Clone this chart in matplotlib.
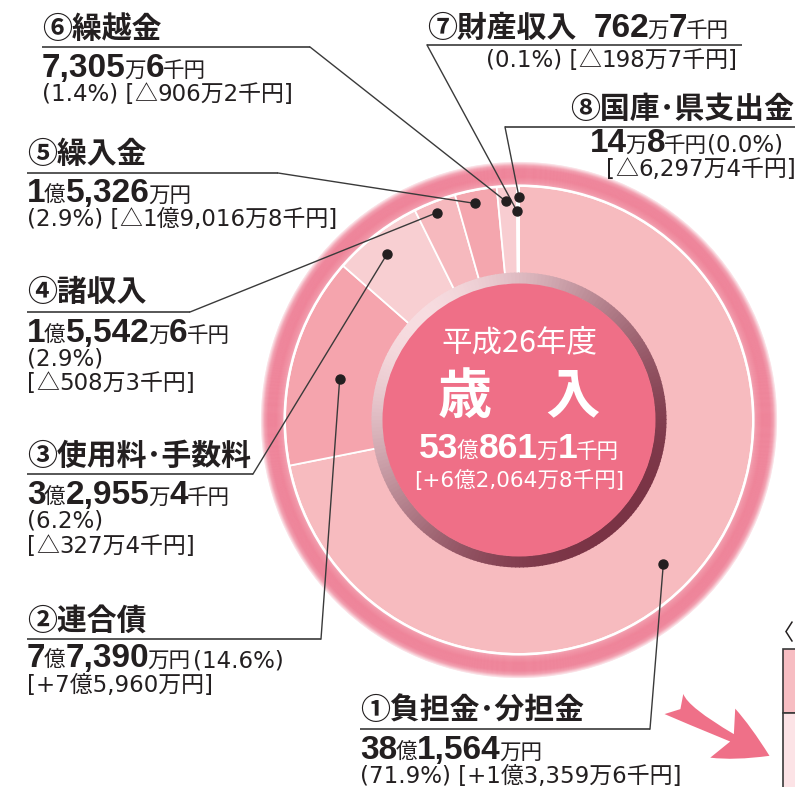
import matplotlib
matplotlib.use('Agg')
import matplotlib.pyplot as plt
import numpy as np
from matplotlib.patches import Wedge, Circle, Rectangle, FancyArrowPatch
from matplotlib.colors import to_rgb

W, H = 795, 787

# ---------------- data ----------------
markers = ['①', '②', '③', '④', '⑤', '⑥', '⑦', '⑧']
categories = ['負担金･分担金', '連合債', '使用料･手数料', '諸収入',
              '繰入金', '繰越金', '財産収入', '国庫･県支出金']
values_k = [3815640, 773900, 329554, 155426, 153260, 73056, 7627, 148]  # 千円
amount_labels = ['38億1,564万円', '7億7,390万円', '3億2,955万4千円', '1億5,542万6千円',
                 '1億5,326万円', '7,305万6千円', '762万7千円', '14万8千円']
share_labels = ['71.9%', '14.6%', '6.2%', '2.9%', '2.9%', '1.4%', '0.1%', '0.0%']
change_labels = ['+1億3,359万6千円', '+7億5,960万円', '△327万4千円', '△508万3千円',
                 '△1億9,016万8千円', '△906万2千円', '△198万7千円', '△6,297万4千円']
fiscal_year = '平成26年度'
chart_title = '歳　入'
total_label = '53億861万1千円'
total_change = '+6億2,064万8千円'

slice_colors = ['#F7BBBF', '#F5A4AD', '#F8CFD2', '#F6B9BE',
                '#F4A6AE', '#F8CDD1', '#FBE4E6', '#FFFFFF']

# ---------------- figure ----------------
fig = plt.figure(figsize=(W / 100, H / 100), dpi=100)
ax = fig.add_axes([0, 0, 1, 1])


def Y(y):
    return H - y


CX, CY = 519, 420
R_PIE = 234
center = (CX, Y(CY))

wedges, _ = ax.pie(values_k, colors=slice_colors, startangle=90, counterclock=False,
                   radius=R_PIE, center=center,
                   wedgeprops=dict(edgecolor='white', linewidth=1.3))
ax.set_xlim(0, W)
ax.set_ylim(0, H)
ax.axis('off')

# outer gradient ring
profile = [(234.5, '#F29AAA'), (238, '#EF7D93'), (243, '#EC6A84'), (251, '#EC6C86'),
           (254.5, '#F08CA0'), (258, '#FBE2E7')]
pr = np.array([p[0] for p in profile])
pc = np.array([to_rgb(p[1]) for p in profile])
r = 234.5
while r < 258:
    col = [np.interp(r + 0.25, pr, pc[:, k]) for k in range(3)]
    ax.add_patch(Wedge(center, r + 0.55, 0, 360, width=0.6, color=col, lw=0, zorder=0.5))
    r += 0.5
ax.add_patch(Circle(center, R_PIE + 0.3, fill=False, ec='white', lw=1.8, zorder=3))

# center disk with shaded rim
dark = np.array(to_rgb('#7A3345'))
light = np.array(to_rgb('#F7DCE0'))
N = 240
for k in range(N):
    a0 = 360 * k / N
    am = np.deg2rad(a0 + 180 / N)
    t = (1 + np.cos(am - np.deg2rad(135))) / 2
    col = dark + (light - dark) * t ** 1.4
    ax.add_patch(Wedge(center, 147.5, a0, a0 + 360 / N + 0.4, width=11.5, color=col,
                       lw=0, zorder=4))
ax.add_patch(Circle(center, 136.5, color='#EF6F87', lw=0, zorder=5))

# ---------------- text helpers ----------------
renderer = fig.canvas.get_renderer()
INK = '#231F20'
CJK = ['Noto Sans CJK JP']
F_TITLE = (CJK, 'bold', 21.5)
F_BIG = (['Liberation Sans', 'Noto Sans CJK JP'], 'bold', 24)
F_UNIT = (CJK, 'normal', 15.5)
F_SMALL = (['DejaVu Sans', 'Noto Sans CJK JP'], 'normal', 16.5)


def runs_text(x, yb, runs, color=INK, ha='left'):
    arts = []
    cx = x
    for s, f in runs:
        if s is None:
            cx += f
            continue
        t = ax.text(cx, Y(yb), s, color=color, ha='left', va='baseline',
                    fontfamily=f[0], fontweight=f[1], fontsize=f[2], zorder=10)
        cx += t.get_window_extent(renderer).width
        arts.append(t)
    total = cx - x
    shift = {'left': 0, 'center': -total / 2, 'right': -total}[ha]
    if shift:
        for t in arts:
            px, py = t.get_position()
            t.set_x(px + shift)
    return cx + shift


def amount_runs(s, big=F_BIG, unit=F_UNIT):
    runs = []
    cur = ''
    curbig = None
    for ch in s:
        b = ch in '0123456789,'
        if curbig is None or b == curbig:
            cur += ch
        else:
            runs.append((cur, big if curbig else unit))
            if curbig:
                runs.append((None, -1.5))
            cur = ch
        curbig = b
    runs.append((cur, big if curbig else unit))
    return runs


def small_runs(s, f=F_SMALL):
    tri = (CJK, 'normal', f[2])
    runs = []
    parts = s.split('△')
    for k, p in enumerate(parts):
        if k > 0:
            runs.append(('△', tri))
        if p:
            runs.append((p, f))
    return runs


def title(i):
    return markers[i] + categories[i]


# ---------------- labels & leaders ----------------
# (underline x0, x1, y), leader start, dot (angle offset from wedge middle, radius)
leaders = [
    ((360, 650, 729), (650, 729), (-5.6, 204)),
    ((27, 321, 639), (321, 639), (2.0, 184)),
    ((27, 253, 474), (253, 474), (0.9, 212)),
    ((27, 190, 312), (190, 312), (0.5, 223)),
    ((27, 278, 173), (278, 173), (0.8, 221)),
    ((42, 310, 47), (310, 47), (0.4, 219)),
    ((427, 742, 45), (427, 45), (0.3, 209)),
    ((505, 800, 127), (505, 127), (0.0, 223)),
]
LINE = '#3A3A3A'
for i, (ul, start, (doff, dr)) in enumerate(leaders):
    w = wedges[i]
    ang = np.deg2rad((w.theta1 + w.theta2) / 2 + doff)
    dx, dy = CX + dr * np.cos(ang), Y(CY) + dr * np.sin(ang)
    ax.plot([ul[0], ul[1]], [Y(ul[2]), Y(ul[2])], color=LINE, lw=1.2, zorder=8,
            solid_capstyle='butt')
    ax.plot([start[0], dx], [Y(start[1]), dy], color=LINE, lw=1.0, zorder=8)
    ax.plot([dx], [dy], 'o', ms=6.5, color=INK, zorder=9)

# ① 負担金・分担金
runs_text(360, 719, [(title(0), F_TITLE)])
runs_text(360, 759, amount_runs(amount_labels[0]))
runs_text(360, 783, small_runs(f'({share_labels[0]}) [{change_labels[0]}]'))
# ② 連合債
runs_text(27, 630, [(title(1), F_TITLE)])
runs_text(27, 667, amount_runs(amount_labels[1]) + [(None, 2)] + small_runs(f'({share_labels[1]})'))
runs_text(27, 692, small_runs(f'[{change_labels[1]}]'))
# ③ 使用料・手数料
runs_text(27, 465, [(title(2), F_TITLE)])
runs_text(27, 504, amount_runs(amount_labels[2]))
runs_text(27, 527, small_runs(f'({share_labels[2]})'))
runs_text(27, 553, small_runs(f'[{change_labels[2]}]'))
# ④ 諸収入
runs_text(27, 301, [(title(3), F_TITLE)])
runs_text(27, 342, amount_runs(amount_labels[3]))
runs_text(27, 365, small_runs(f'({share_labels[3]})'))
runs_text(27, 390, small_runs(f'[{change_labels[3]}]'))
# ⑤ 繰入金
runs_text(27, 163, [(title(4), F_TITLE)])
runs_text(27, 202, amount_runs(amount_labels[4]))
runs_text(27, 226, small_runs(f'({share_labels[4]}) [{change_labels[4]}]'))
# ⑥ 繰越金
runs_text(42, 38, [(title(5), F_TITLE)])
runs_text(42, 77, amount_runs(amount_labels[5]))
runs_text(42, 101, small_runs(f'({share_labels[5]}) [{change_labels[5]}]'))
# ⑦ 財産収入
runs_text(427, 37, [(title(6), F_TITLE), (None, 17)] + amount_runs(amount_labels[6]))
runs_text(737, 67, small_runs(f'({share_labels[6]}) [{change_labels[6]}]'), ha='right')
# ⑧ 国庫・県支出金
runs_text(570, 118, [(title(7), F_TITLE)])
runs_text(590, 152, amount_runs(amount_labels[7]) + small_runs(f'({share_labels[7]})'))
runs_text(606, 176, small_runs(f'[{change_labels[7]}]'))

# ---------------- center text ----------------
WHITE = 'white'
runs_text(CX, 351, [(fiscal_year, (CJK, 'normal', 22))], color=WHITE, ha='center')
runs_text(CX, 413, [(chart_title, (CJK, 'bold', 39))], color=WHITE, ha='center')
runs_text(CX, 458, amount_runs(total_label,
                               big=(['Liberation Sans', 'Noto Sans CJK JP'], 'bold', 25.5),
                               unit=(CJK, 'normal', 15.5)),
          color=WHITE, ha='center')
runs_text(CX, 487, small_runs(f'[{total_change}]',
                              (['DejaVu Sans', 'Noto Sans CJK JP'], 'normal', 15.5)),
          color=WHITE, ha='center')

# ---------------- bottom-right fragment ----------------
ax.text(794, Y(640), '〈', fontfamily=CJK, fontsize=16, color=INK,
        ha='right', va='baseline', zorder=10)
ax.add_patch(Rectangle((783, Y(713)), 40, 713 - 649, fc='#F7BDC2', ec=LINE, lw=1.2, zorder=6))
ax.add_patch(Rectangle((783, Y(820)), 40, 820 - 713, fc='#FCE3E6', ec=LINE, lw=1.2, zorder=6))
ax.add_patch(FancyArrowPatch((672, Y(702)), (772, Y(757)),
                             arrowstyle='fancy,head_length=1.7,head_width=1.8,tail_width=0.9',
                             mutation_scale=22, connectionstyle='angle3,angleA=-50,angleB=-25',
                             fc='#EF7088', ec='none', zorder=6))

fig.savefig('out.png', dpi=100)
